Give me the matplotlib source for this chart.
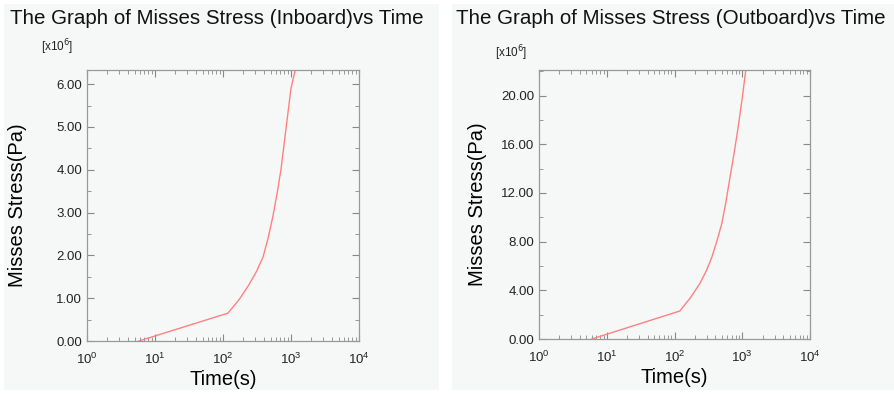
import matplotlib
matplotlib.use("Agg")
import matplotlib.pyplot as plt
from matplotlib.patches import Rectangle
from matplotlib.ticker import LogLocator, MultipleLocator, FormatStrFormatter, NullFormatter

plt.rcParams['font.family'] = ['Liberation Sans', 'DejaVu Sans']

# values (stress in units of 1e6 Pa)
time_in = [5.8, 118, 175, 240, 310, 388, 460, 540, 620, 710, 850, 1000, 1180]
stress_in = [0.0, 0.65, 0.98, 1.31, 1.62, 1.96, 2.40, 2.90, 3.42, 3.99, 5.00, 5.90, 6.40]

time_out = [6.0, 120, 175, 239, 300, 357, 425, 500, 580, 660, 760, 870, 1000, 1140]
stress_out = [0.0, 2.3, 3.45, 4.6, 5.7, 6.75, 8.1, 9.5, 11.4, 13.3, 15.3, 17.4, 19.8, 22.3]

titles = ["The Graph of Misses Stress (Inboard)vs Time",
          "The Graph of Misses Stress (Outboard)vs Time"]

W, H = 894, 394
fig = plt.figure(figsize=(W / 100, H / 100), dpi=100, facecolor='white')

panel_bg = '#f6f8f8'
# panel backgrounds [x0, x1] in px
for x0, x1 in [(4, 439), (452, 894)]:
    fig.patches.append(Rectangle((x0 / W, 4 / H), (x1 - x0) / W, 386 / H,
                                 transform=fig.transFigure,
                                 facecolor=panel_bg, edgecolor='none', zorder=-5))


def px_axes(x0, x1, ytop, ybot):
    return fig.add_axes([x0 / W, 1 - ybot / H, (x1 - x0) / W, (ybot - ytop) / H])


def style(ax, ymax, ymajor, yminor, ylab_x):
    ax.set_facecolor(panel_bg)
    ax.set_xscale('log')
    ax.set_xlim(1, 1e4)
    ax.set_ylim(0, ymax)
    ax.xaxis.set_major_locator(LogLocator(base=10, numticks=10))
    ax.xaxis.set_minor_locator(LogLocator(base=10, subs=range(2, 10), numticks=10))
    ax.xaxis.set_minor_formatter(NullFormatter())
    ax.yaxis.set_major_locator(MultipleLocator(ymajor))
    ax.yaxis.set_minor_locator(MultipleLocator(yminor))
    ax.yaxis.set_major_formatter(FormatStrFormatter('%.2f'))
    ax.tick_params(which='both', direction='in', top=True, right=True,
                   color='#888888', labelsize=9.5, labelcolor='#222222')
    ax.tick_params(which='major', length=5, width=0.8)
    ax.tick_params(which='minor', length=3, width=0.6)
    ax.tick_params(axis='x', pad=8)
    for sp in ax.spines.values():
        sp.set_color('#999999')
        sp.set_linewidth(0.9)
    ax.set_xlabel('Time(s)', fontsize=14.5, labelpad=2)
    ax.set_ylabel('Misses Stress(Pa)', fontsize=14.5)
    ax.yaxis.set_label_coords(ylab_x, 0.5)


ax1 = px_axes(87, 359, 70, 341)
ax1.plot(time_in, stress_in, color='#ff8080', lw=1.0)
style(ax1, 6.33, 1.0, 0.5, -0.22)
ax1.text(-0.11, 1.085, r'[x10$^6$]', transform=ax1.transAxes, fontsize=8.5,
         ha='center', va='center', color='#222222')

ax2 = px_axes(539, 810, 70, 339)
ax2.plot(time_out, stress_out, color='#ff8080', lw=1.0)
style(ax2, 22.1, 4.0, 2.0, -0.192)
ax2.text(-0.103, 1.063, r'[x10$^6$]', transform=ax2.transAxes, fontsize=8.5,
         ha='center', va='center', color='#222222')

fig.text(10 / W, 1 - 19 / H, titles[0], fontsize=14.8, ha='left', va='center',
         color='#111111')
fig.text(456 / W, 1 - 19 / H, titles[1], fontsize=14.8, ha='left', va='center',
         color='#111111')

fig.savefig('out.png', dpi=100, facecolor='white')
